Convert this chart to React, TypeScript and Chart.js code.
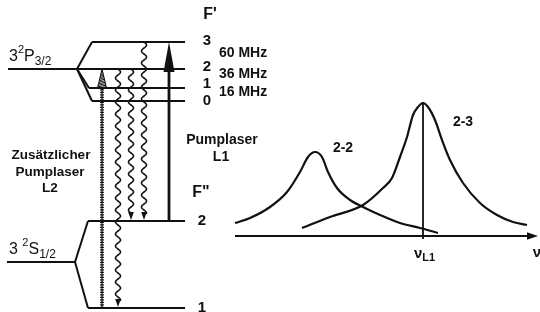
import React, { useEffect, useRef } from 'react';
import { Chart, registerables } from 'chart.js';
Chart.register(...registerables);

// ---- Term scheme (diagram units: x to the right, y = downward position) ----
// 3²P3/2 hyperfine levels F'
const upperF = ['3', '2', '1', '0'];
const upperLevelY = [42, 69, 88, 101];
const upperLevelStartX = [92, 8, 89, 92];
const upperSplitPoint = [77, 69];
const levelEndX = 185;
const splitLabels = ['60 MHz', '36 MHz', '16 MHz'];
const splitLabelY = [53, 74, 92];
// 3²S1/2 hyperfine levels F''
const lowerF = ['2', '1'];
const lowerLevelY = [221, 308];
const lowerLevelStartX = [88, 88];
const lowerSplitPoint = [75, 262];
const lowerMainStartX = 7;
// transitions
const pumpL1 = { x: 169, from: 221, to: 42 };
const pumpL2 = { x: 102, from: 308, to: 69 };
const decayX = [118, 131, 144];
const decayFrom = [69, 69, 42];
const decayTo = [308, 221, 221];

// ---- Spectrum (Lorentz lines) ----
const axisY = 236;
const axisStartX = 235;
const axisEndX = 538;
const nuL1 = 423;
const nuL1Top = 102;
const line22X = [235, 250, 270, 287, 300, 308, 315, 322, 328, 337, 350, 363, 380, 400, 420, 438];
const line22Y = [223, 218, 207, 192, 172, 157, 152, 157, 172, 188, 200, 207, 215, 223, 228, 233];
const line23X = [302, 330, 363, 383, 392, 400, 407, 413, 418, 423, 428, 435, 442, 450, 463, 480, 497, 513, 527];
const line23Y = [228, 217, 205, 188, 178, 157, 137, 115, 107, 103, 107, 120, 140, 160, 183, 203, 215, 222, 225];

const INK = '#111111';
const FONT = '"Liberation Sans", Arial, Helvetica, sans-serif';

const seg = (pts: number[][], width = 2, extra: any = {}) => ({
  data: pts.map(([x, y]) => ({ x, y })),
  showLine: true,
  borderColor: INK,
  borderWidth: width,
  pointRadius: 0,
  tension: 0,
  ...extra,
});

function drawPlugin() {
  return {
    id: 'diagramExtras',
    afterDatasetsDraw(chart: any) {
      const ctx = chart.ctx as CanvasRenderingContext2D;
      const sx = chart.scales.x, sy = chart.scales.y;
      const X = (v: number) => sx.getPixelForValue(v);
      const Y = (v: number) => sy.getPixelForValue(v);
      ctx.save();
      ctx.fillStyle = INK;
      ctx.strokeStyle = INK;

      const text = (t: string, x: number, y: number, size: number, bold = true, align: CanvasTextAlign = 'center') => {
        ctx.font = `${bold ? 'bold ' : ''}${size}px ${FONT}`;
        ctx.textAlign = align;
        ctx.textBaseline = 'middle';
        ctx.fillText(t, X(x), Y(y));
      };
      const rich = (parts: { t: string; s: number; dy: number; b?: boolean }[], x: number, y: number) => {
        let cx = X(x);
        ctx.textAlign = 'left';
        ctx.textBaseline = 'alphabetic';
        for (const p of parts) {
          ctx.font = `${p.b ? 'bold ' : ''}${p.s}px ${FONT}`;
          ctx.fillText(p.t, cx, Y(y) + p.dy);
          cx += ctx.measureText(p.t).width;
        }
      };
      const arrowHead = (tipX: number, tipY: number, dx: number, dy: number, len: number, half: number) => {
        const bx = X(tipX) - dx * len, by = Y(tipY) - dy * len;
        ctx.beginPath();
        ctx.moveTo(X(tipX), Y(tipY));
        ctx.lineTo(bx - dy * half, by + dx * half);
        ctx.lineTo(bx + dy * half, by - dx * half);
        ctx.closePath();
        ctx.fill();
      };

      // wavy decay lines
      ctx.lineWidth = 1.6;
      for (let i = 0; i < decayX.length; i++) {
        const x0 = X(decayX[i]);
        const y0 = Y(decayFrom[i]);
        const y1 = Y(decayTo[i]) - 7;
        ctx.beginPath();
        for (let yy = y0; yy <= y1; yy += 0.5) {
          const xx = x0 + 2.5 * Math.sin(((yy - y0) / 12) * 2 * Math.PI);
          if (yy === y0) ctx.moveTo(xx, yy); else ctx.lineTo(xx, yy);
        }
        ctx.stroke();
        arrowHead(decayX[i], decayTo[i] - 1, 0, 1, 8, 2.8);
      }

      // L1 arrow head
      arrowHead(pumpL1.x, pumpL1.to, 0, -1, 30, 5.5);

      // L2 hatched arrow head
      {
        const tx = X(pumpL2.x), ty = Y(pumpL2.to);
        const h = 19, w = 4.5;
        ctx.lineWidth = 1;
        ctx.beginPath();
        ctx.moveTo(tx, ty);
        ctx.lineTo(tx - w, ty + h);
        ctx.lineTo(tx + w, ty + h);
        ctx.closePath();
        ctx.stroke();
        for (let k = 2; k < h; k += 1.5) {
          const hw = (w * k) / h;
          ctx.beginPath();
          ctx.moveTo(tx - hw, ty + k + 0.8);
          ctx.lineTo(tx + hw, ty + k - 0.8);
          ctx.stroke();
        }
      }

      // axis arrow
      arrowHead(axisEndX, axisY, 1, 0, 11, 3.8);

      // labels: term symbols
      rich([
        { t: '3', s: 16, dy: 0 },
        { t: '2', s: 11, dy: -8 },
        { t: 'P', s: 16, dy: 0 },
        { t: '3/2', s: 12, dy: 4 },
      ], 9, 61);
      rich([
        { t: '3 ', s: 16, dy: 0 },
        { t: '2', s: 11, dy: -8 },
        { t: 'S', s: 16, dy: 0 },
        { t: '1/2', s: 12, dy: 4 },
      ], 9, 254);

      // F labels
      text("F'", 210, 15, 16);
      upperF.forEach((f, i) => text(f, 207, [41, 67, 84, 101][i], 15));
      splitLabels.forEach((l, i) => text(l, 219, splitLabelY[i], 14, true, 'left'));
      text('F"', 201, 193, 16);
      lowerF.forEach((f, i) => text(f, 202, lowerLevelY[i], 15));

      // laser labels
      text('Pumplaser', 222, 140, 14);
      text('L1', 221, 157, 14);
      text('Zusätzlicher', 51, 155, 13.5);
      text('Pumplaser', 50, 172, 13.5);
      text('L2', 50, 188, 13.5);

      // spectrum labels
      text('2-2', 343, 148, 14);
      text('2-3', 463, 122, 14);
      rich([
        { t: 'ν', s: 15, dy: 0, b: true },
        { t: 'L1', s: 11, dy: 3, b: true },
      ], 414, 258);
      text('ν', 537, 253, 15);

      ctx.restore();
    },
  };
}

export default function App() {
  const ref = useRef<HTMLCanvasElement>(null);
  useEffect(() => {
    document.body.style.margin = '0';
    const datasets: any[] = [];
    // upper levels
    upperLevelY.forEach((y, i) => datasets.push(seg([[upperLevelStartX[i], y], [levelEndX, y]])));
    // upper fan
    [0, 2, 3].forEach((i) => datasets.push(seg([upperSplitPoint, [upperLevelStartX[i], upperLevelY[i]]])));
    // lower levels
    lowerLevelY.forEach((y, i) => datasets.push(seg([[lowerLevelStartX[i], y], [levelEndX, y]])));
    datasets.push(seg([[lowerMainStartX, lowerSplitPoint[1]], lowerSplitPoint]));
    lowerLevelY.forEach((y, i) => datasets.push(seg([lowerSplitPoint, [lowerLevelStartX[i], y]])));
    // pump L1 shaft
    datasets.push(seg([[pumpL1.x, pumpL1.from], [pumpL1.x, pumpL1.to + 25]], 2.8));
    // pump L2 rope
    datasets.push(seg([[pumpL2.x, pumpL2.from], [pumpL2.x, pumpL2.to + 19]], 1.2));
    datasets.push(seg([[pumpL2.x, pumpL2.from], [pumpL2.x, pumpL2.to + 19]], 3.8, { borderDash: [1.2, 1.3] }));
    // spectrum axis & nu_L1 marker
    datasets.push(seg([[axisStartX, axisY], [axisEndX - 8, axisY]], 2.2));
    datasets.push(seg([[nuL1, nuL1Top], [nuL1, axisY + 3]], 1.8));
    // Lorentz lines
    datasets.push(seg(line22X.map((x, i) => [x, line22Y[i]]), 2.2, { tension: 0.4, cubicInterpolationMode: 'monotone' }));
    datasets.push(seg(line23X.map((x, i) => [x, line23Y[i]]), 2.2, { tension: 0.4, cubicInterpolationMode: 'monotone' }));

    const chart = new Chart(ref.current!, {
      type: 'scatter',
      data: { datasets },
      options: {
        animation: false,
        responsive: false,
        maintainAspectRatio: false,
        layout: { padding: 0 },
        plugins: { legend: { display: false }, tooltip: { enabled: false } },
        scales: {
          x: { type: 'linear', min: 0, max: 540, display: false },
          y: { type: 'linear', min: 0, max: 312, reverse: true, display: false },
        },
        elements: { point: { radius: 0 } },
      },
      plugins: [drawPlugin()],
    });
    return () => chart.destroy();
  }, []);
  return (
    <div style={{ width: 540, height: 312, background: '#fff' }}>
      <canvas ref={ref} width={540} height={312} style={{ display: 'block' }} />
    </div>
  );
}
